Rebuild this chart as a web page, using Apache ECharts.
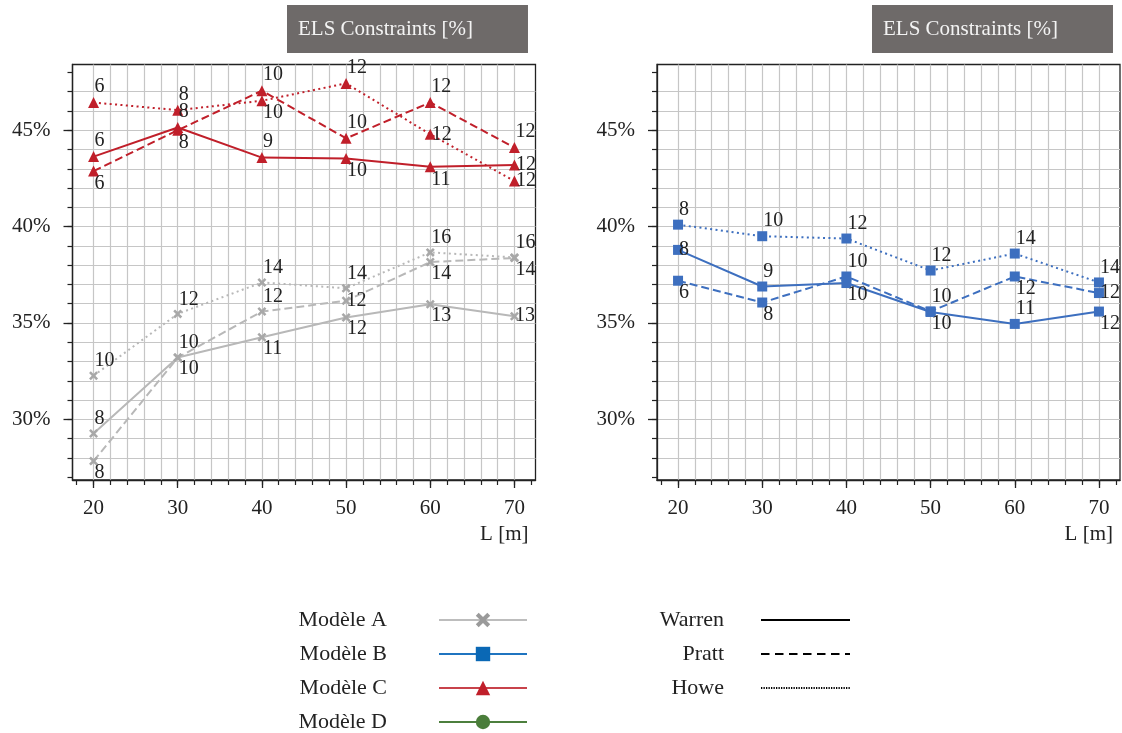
<!DOCTYPE html>
<html><head><meta charset="utf-8">
<script src="https://cdn.jsdelivr.net/npm/echarts@6/dist/echarts.min.js"></script>
<style>html,body{margin:0;padding:0;background:#fff}#c{width:1122px;height:733px}</style>
</head><body><div id="c"></div>
<script>
// ---------- data ----------
const xValues = [20, 30, 40, 50, 60, 70];
const xTicksMajor = [20, 30, 40, 50, 60, 70];
const xTicksMinor = [18, 20, 22, 24, 26, 28, 30, 32, 34, 36, 38, 40, 42, 44, 46, 48, 50, 52, 54, 56, 58, 60, 62, 64, 66, 68, 70, 72];
const yTicksMajor = [30, 35, 40, 45];
const yTicksMinor = [27, 28, 29, 30, 31, 32, 33, 34, 35, 36, 37, 38, 39, 40, 41, 42, 43, 44, 45, 46, 47, 48];

// Modèle A (left panel)
const A_warren = [29.26, 33.21, 34.26, 35.28, 35.97, 35.35];
const A_pratt  = [27.83, 33.20, 35.59, 36.15, 38.16, 38.37];
const A_howe   = [32.26, 35.47, 37.10, 36.80, 38.66, 38.40];
const A_warren_lbl = [8, 10, 11, 12, 13, 13];
const A_pratt_lbl  = [8, 10, 12, 12, 14, 14];
const A_howe_lbl   = [10, 12, 14, 14, 16, 16];

// Modèle C (left panel)
const C_warren = [43.63, 45.14, 43.58, 43.53, 43.10, 43.20];
const C_pratt  = [42.88, 45.00, 47.05, 44.58, 46.44, 44.10];
const C_howe   = [46.44, 46.04, 46.53, 47.43, 44.79, 42.36];
const C_warren_lbl = [6, 8, 9, 10, 11, 12];
const C_pratt_lbl  = [6, 8, 10, 10, 12, 12];
const C_howe_lbl   = [6, 8, 10, 12, 12, 12];

// Modèle B (right panel)
const B_warren = [38.79, 36.89, 37.07, 35.57, 34.95, 35.59];
const B_pratt  = [37.19, 36.06, 37.41, 35.60, 37.41, 36.55];
const B_howe   = [40.10, 39.50, 39.38, 37.72, 38.60, 37.10];
const B_warren_lbl = [8, 9, 10, 10, 11, 12];
const B_pratt_lbl  = [6, 8, 10, 10, 12, 12];
const B_howe_lbl   = [8, 10, 12, 12, 14, 14];

// label side (t = above, b = below, m = right/middle) – layout only
const A_warren_side = ['t','b','b','b','b','m'];
const A_pratt_side  = ['b','t','t','m','b','b'];
const A_howe_side   = ['t','t','t','t','t','t'];
const C_warren_side = ['t','t','t','b','b','m'];
const C_pratt_side  = ['b','b','t','t','t','t'];
const C_howe_side   = ['t','t','b','t','m','m'];
const B_warren_side = ['m','t','b','b','t','b'];
const B_pratt_side  = ['b','b','t','t','b','m'];
const B_howe_side   = ['t','t','t','t','t','t'];

// ---------- styles ----------
const FONT = "'Liberation Serif', 'DejaVu Serif', serif";
const INK = '#222222';
const GRAY = '#b8b8b8', GRAY_M = '#a8a8a8';
const BLUE = '#3d6fbf';
const RED = '#c01f2a';
const X_SYM = 'path://M2,0 L5,3 L8,0 L10,2 L7,5 L10,8 L8,10 L5,7 L2,10 L0,8 L3,5 L0,2 Z';
const DASH = [8, 4], DOT = [2, 3.4];
const X_MIN = 17.5, X_MAX = 72.5, Y_MIN = 26.85, Y_MAX = 48.41;

function sideLabel(s) {
  if (s === 't') return {position: 'top', distance: 0, align: 'left', verticalAlign: 'bottom', offset: [1, 0]};
  if (s === 'b') return {position: 'bottom', distance: 0, align: 'left', verticalAlign: 'top', offset: [1, -3]};
  return {position: 'right', distance: -4, align: 'left', verticalAlign: 'middle', offset: [0, 0]};
}

function makeSeries(name, axisIdx, values, labels, sides, color, markerColor, symbol, symbolSize, dash) {
  return {
    name: name, type: 'line', xAxisIndex: axisIdx, yAxisIndex: axisIdx,
    data: xValues.map((x, i) => ({value: [x, values[i]], label: sideLabel(sides[i])})),
    symbol: symbol, symbolSize: symbolSize, showSymbol: true,
    lineStyle: {color: color, width: 2, type: dash},
    itemStyle: {color: markerColor},
    label: {show: true, formatter: p => String(labels[p.dataIndex]), fontFamily: FONT, fontSize: 20, color: INK},
    emphasis: {disabled: true}, silent: true
  };
}

function legendSeries(name, color, markerColor, symbol, symbolSize, dash, width) {
  return {
    name: name, type: 'line', xAxisIndex: 0, yAxisIndex: 0, data: [],
    symbol: symbol, symbolSize: symbolSize,
    lineStyle: {color: color, width: width, type: dash},
    itemStyle: {color: markerColor, borderWidth: 0}
  };
}

function gridOf(left) {
  return {left: left, top: 64.5, width: 463, height: 415.5, show: true,
    borderColor: INK, borderWidth: 1.3, backgroundColor: 'transparent'};
}

function xMajor(g) {
  return {
    type: 'value', gridIndex: g, position: 'bottom', min: X_MIN, max: X_MAX,
    axisLine: {show: true, onZero: false, lineStyle: {color: INK, width: 1.3}},
    axisTick: {show: true, customValues: xTicksMajor, length: 8, lineStyle: {color: INK, width: 1.3}},
    axisLabel: {show: true, customValues: xTicksMajor, margin: 18, fontFamily: FONT, fontSize: 21, color: INK},
    splitLine: {show: false},
    name: 'L [m]', nameLocation: 'end', nameGap: -7,
    nameTextStyle: {fontFamily: FONT, fontSize: 21, color: INK, align: 'right', verticalAlign: 'top', padding: [44, 0, 0, 0]}
  };
}
function xMinor(g) {
  return {
    type: 'value', gridIndex: g, position: 'bottom', min: X_MIN, max: X_MAX, minInterval: 2, maxInterval: 2,
    axisLine: {show: false, onZero: false},
    axisTick: {show: true, customValues: xTicksMinor, length: 5, lineStyle: {color: INK, width: 1.2}},
    axisLabel: {show: false},
    splitLine: {show: true, showMinLine: false, showMaxLine: false, lineStyle: {color: '#c6c6c6', width: 1.2}}
  };
}
function yMajor(g) {
  return {
    type: 'value', gridIndex: g, position: 'left', min: Y_MIN, max: Y_MAX,
    axisLine: {show: true, onZero: false, lineStyle: {color: INK, width: 1.3}},
    axisTick: {show: true, customValues: yTicksMajor, length: 9, lineStyle: {color: INK, width: 1.3}},
    axisLabel: {show: true, customValues: yTicksMajor, margin: 22, formatter: v => v + '%', fontFamily: FONT, fontSize: 21, color: INK},
    splitLine: {show: false}
  };
}
function yMinor(g) {
  return {
    type: 'value', gridIndex: g, position: 'left', min: Y_MIN, max: Y_MAX, minInterval: 1, maxInterval: 1,
    axisLine: {show: false, onZero: false},
    axisTick: {show: true, customValues: yTicksMinor, length: 5, lineStyle: {color: INK, width: 1.2}},
    axisLabel: {show: false},
    splitLine: {show: true, showMinLine: false, showMaxLine: false, lineStyle: {color: '#c6c6c6', width: 1.2}}
  };
}

const titleStyle = {color: '#f3f3f3', fontSize: 21, fontWeight: 'normal', fontFamily: FONT, lineHeight: 24};
const legendText = (pad) => ({fontFamily: FONT, fontSize: 22, color: INK, lineHeight: 20, padding: [0, pad, 0, 0]});

const option = {
  animation: false,
  backgroundColor: '#ffffff',
  title: [
    {text: 'ELS Constraints [%]', left: 287, top: 5, backgroundColor: '#6e6a69', padding: [12, 55, 12, 11], textStyle: titleStyle},
    {text: 'ELS Constraints [%]', left: 872, top: 5, backgroundColor: '#6e6a69', padding: [12, 55, 12, 11], textStyle: titleStyle}
  ],
  legend: [
    {data: ['Modèle A', 'Modèle B', 'Modèle C', 'Modèle D'], orient: 'vertical', right: 594, top: 609, height: 140, padding: 0,
     align: 'right', itemWidth: 88, itemHeight: 18, itemGap: 12, selectedMode: false, textStyle: legendText(47)},
    {data: ['Warren', 'Pratt', 'Howe'], orient: 'vertical', right: 271, top: 609, height: 140, padding: 0,
     align: 'right', itemWidth: 89, itemHeight: 18, itemGap: 12, selectedMode: false, textStyle: legendText(32)}
  ],
  grid: [gridOf(72.5), gridOf(657)],
  xAxis: [xMajor(0), xMinor(0), xMajor(1), xMinor(1)],
  yAxis: [yMajor(0), yMinor(0), yMajor(1), yMinor(1)],
  series: [
    makeSeries('A-Warren', 0, A_warren, A_warren_lbl, A_warren_side, GRAY, GRAY_M, X_SYM, 9, 'solid'),
    makeSeries('A-Pratt',  0, A_pratt,  A_pratt_lbl,  A_pratt_side,  GRAY, GRAY_M, X_SYM, 9, DASH),
    makeSeries('A-Howe',   0, A_howe,   A_howe_lbl,   A_howe_side,   GRAY, GRAY_M, X_SYM, 9, DOT),
    makeSeries('C-Warren', 0, C_warren, C_warren_lbl, C_warren_side, RED, RED, 'triangle', 11, 'solid'),
    makeSeries('C-Pratt',  0, C_pratt,  C_pratt_lbl,  C_pratt_side,  RED, RED, 'triangle', 11, DASH),
    makeSeries('C-Howe',   0, C_howe,   C_howe_lbl,   C_howe_side,   RED, RED, 'triangle', 11, DOT),
    makeSeries('B-Warren', 2, B_warren, B_warren_lbl, B_warren_side, BLUE, BLUE, 'rect', 10, 'solid'),
    makeSeries('B-Pratt',  2, B_pratt,  B_pratt_lbl,  B_pratt_side,  BLUE, BLUE, 'rect', 10, DASH),
    makeSeries('B-Howe',   2, B_howe,   B_howe_lbl,   B_howe_side,   BLUE, BLUE, 'rect', 10, DOT),
    legendSeries('Modèle A', '#bdbdbd', '#9a9a9a', X_SYM, 10, 'solid', 2),
    legendSeries('Modèle B', '#1f74c0', '#0a68b5', 'rect', 10, 'solid', 2),
    legendSeries('Modèle C', '#c8434b', '#c01f2a', 'triangle', 10, 'solid', 2),
    legendSeries('Modèle D', '#4c7f3d', '#4a7d3a', 'circle', 10, 'solid', 2),
    legendSeries('Warren', '#000000', 'rgba(0,0,0,0)', 'none', 0, 'solid', 2),
    legendSeries('Pratt', '#000000', 'rgba(0,0,0,0)', 'none', 0, [8.5, 5.5], 2),
    legendSeries('Howe', '#000000', 'rgba(0,0,0,0)', 'none', 0, [1.3, 1.2], 1.5)
  ]
};

const chart = echarts.init(document.getElementById('c'), null, {renderer: 'canvas'});
chart.setOption(option);
</script>
</body></html>
